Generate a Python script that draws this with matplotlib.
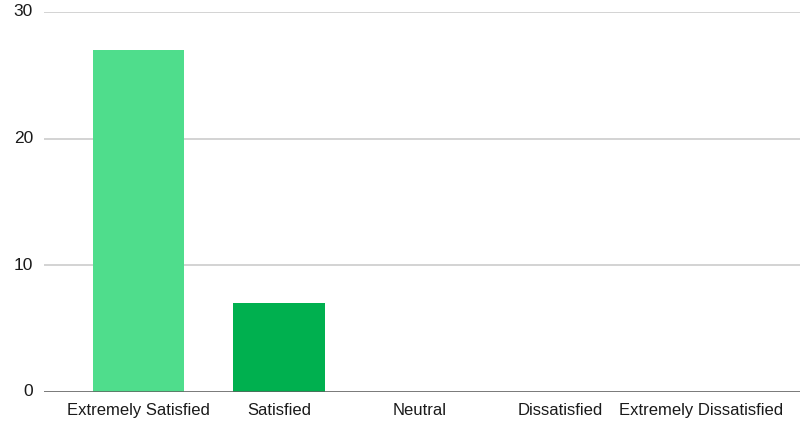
import matplotlib
matplotlib.use("Agg")
import matplotlib.pyplot as plt

categories = ["Extremely Satisfied", "Satisfied", "Neutral", "Dissatisfied", "Extremely Dissatisfied"]
counts = [27, 7, 0, 0, 0]
bar_colors = ["#4fdd8c", "#00b04f", "#4fdd8c", "#00b04f", "#4fdd8c"]
yticks = [0, 10, 20, 30]

plt.rcParams['font.family'] = ['Liberation Sans', 'DejaVu Sans']

fig = plt.figure(figsize=(8.08, 4.24), dpi=100)
ax = fig.add_axes([44/808, 32/424, 756/808, 380/424])

x = list(range(len(categories)))
ax.bar(x, counts, width=0.65, color=bar_colors, zorder=3)

ax.set_xlim(-0.67, 4.70)
ax.set_ylim(0, 30)
ax.set_yticks(yticks)
ax.set_xticks(x)
ax.set_xticklabels(categories)

# gridlines
ax.grid(axis='y', color='#cccccc', linewidth=1.2, zorder=0)
ax.axhline(0, color='#5f5f5f', linewidth=1.8, zorder=4)
for s in ax.spines.values():
    s.set_visible(False)
ax.tick_params(axis='both', length=0, labelsize=12, colors='#1a1a1a')
ax.tick_params(axis='y', pad=8, labelsize=12.5)
ax.tick_params(axis='x', pad=8)
for lbl in ax.get_yticklabels():
    lbl.set_verticalalignment('center')

plt.savefig('out.png', dpi=100)
